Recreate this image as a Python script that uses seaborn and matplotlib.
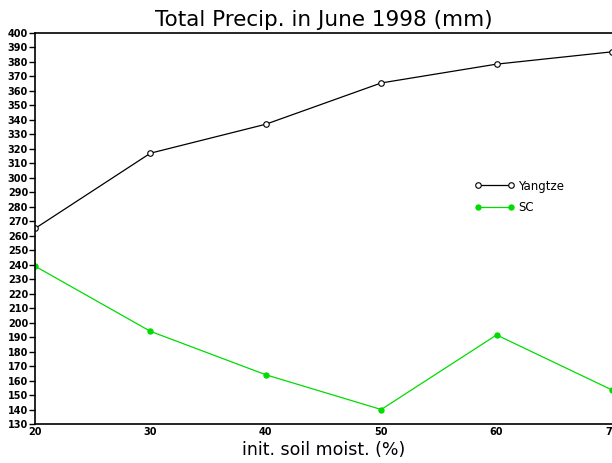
import pandas as pd
import matplotlib
matplotlib.use("Agg")
import matplotlib.pyplot as plt
import seaborn as sns

# datos
soil_moist = [20, 30, 40, 50, 60, 70]
yangtze = [265, 317, 337, 365.5, 378.5, 387]
sc = [239, 194, 164, 140, 191.5, 153.5]

df = pd.DataFrame({"soil": soil_moist, "Yangtze": yangtze, "SC": sc})

sns.set_style("ticks")
plt.rcParams['font.family'] = ['DejaVu Sans']
plt.rcParams['text.color'] = 'black'
plt.rcParams['axes.labelcolor'] = 'black'
plt.rcParams['xtick.color'] = 'black'
plt.rcParams['ytick.color'] = 'black'

fig = plt.figure(figsize=(6.12, 4.63), dpi=100)
ax = fig.add_axes([35 / 612, 1 - 424 / 463, 1 - 35 / 612, (424 - 33) / 463])

green = "#00dc00"
sns.lineplot(data=df, x="soil", y="Yangtze", ax=ax, color="black", linewidth=0.9,
             marker="o", markersize=4, markerfacecolor="white",
             markeredgecolor="black", markeredgewidth=0.8, label="Yangtze")
sns.lineplot(data=df, x="soil", y="SC", ax=ax, color=green, linewidth=0.9,
             marker="o", markersize=3.8, markerfacecolor=green,
             markeredgecolor=green, label="SC")

ax.set_xlim(20, 70)
ax.set_ylim(130, 400)
ax.set_xticks(soil_moist)
ax.set_yticks(range(130, 401, 10))
ax.tick_params(axis="y", direction="out", length=4, width=1, pad=1, labelsize=7)
ax.tick_params(axis="x", length=0, pad=2, labelsize=7)
for lbl in ax.get_xticklabels() + ax.get_yticklabels():
    lbl.set_fontweight("bold")

for s in ["left", "bottom", "top"]:
    ax.spines[s].set_linewidth(1.2)
    ax.spines[s].set_color("black")
ax.spines["right"].set_visible(False)

ax.set_title("Total Precip. in June 1998 (mm)", fontsize=15.5, pad=5, color="black")
ax.set_xlabel("init. soil moist. (%)", fontsize=12.5, labelpad=3)
ax.set_ylabel("")

ax.legend(loc="upper left", bbox_to_anchor=(0.762, 0.625), frameon=False,
          fontsize=8.5, borderpad=0, borderaxespad=0, handlelength=3.4,
          handletextpad=0.3, labelspacing=0.75, numpoints=2)

fig.savefig("out.png", dpi=100)
